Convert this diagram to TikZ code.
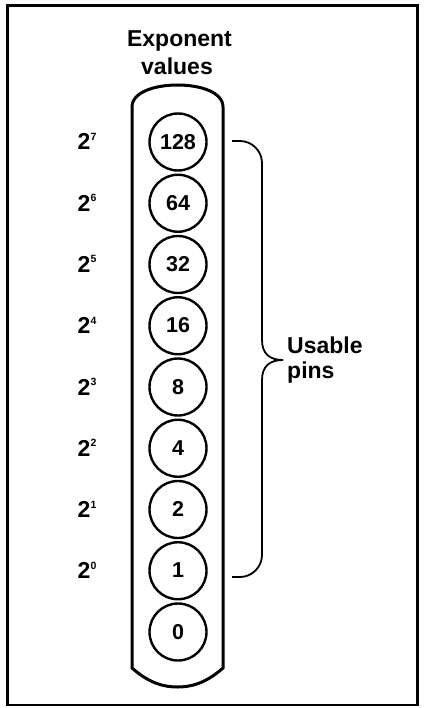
\documentclass[tikz,border=0pt]{standalone}
\usepackage{fontspec}
\setmainfont{Liberation Sans}
\begin{document}
\begin{tikzpicture}[x=1pt,y=-1pt,
  pin/.style={circle,draw,line width=2.4pt,minimum size=57pt,inner sep=0pt,font=\fontsize{21.5}{21.5}\selectfont\bfseries},
  explabel/.style={font=\fontsize{23}{23}\selectfont\bfseries,anchor=base,inner sep=0pt},
  heading/.style={font=\fontsize{23}{27}\selectfont\bfseries,anchor=base,inner sep=0pt}]
\useasboundingbox (0,0) rectangle (423,708);
\draw[line width=2.5pt] (7.5,5.5) rectangle (417.5,705);
% pill body
\draw[line width=3pt] (132,107) .. controls (132,92) and (155,85) .. (177.5,85)
  .. controls (200,85) and (223,92) .. (223,107) -- (223,668)
  .. controls (205,684) and (190,687) .. (177.5,687)
  .. controls (165,687) and (150,684) .. (132,668) -- cycle;
\node[heading] (head1) at (179.5,47) {Exponent};
\node[heading] (head2) at (177,75) {values};
\foreach \v/\e [count=\i from 0] in {128/7,64/6,32/5,16/4,8/3,4/2,2/1,1/0} {
  \node[pin] (c\e) at (178,{142+61.25*\i}) {\raisebox{1pt}{\v}};
  \node[explabel] (l\e) at (87,{150+61.25*\i}) {2\hspace{0.3pt}\raisebox{9.5pt}{\fontsize{10.5}{10.5}\selectfont\bfseries\e}};
}
\node[pin] (cz) at (178,632) {\raisebox{1pt}{0}};
% brace
\coordinate (bt) at (232,141);
\coordinate (bb) at (232,577);
\coordinate (tip) at (283,360);
\draw[line width=1.8pt] (bt) -- (240,141) .. controls (252,141) and (262,151) .. (262,163) -- (262,340)
  .. controls (262,354) and (270,360) .. (tip)
  .. controls (270,360) and (262,366) .. (262,380)
  -- (262,555) .. controls (262,567) and (252,577) .. (240,577) -- (bb);
\node[heading,anchor=base west] (usable) at (287,353) {Usable};
\node[heading,anchor=base west] (pins) at (287,378) {pins};
\end{tikzpicture}
\end{document}
